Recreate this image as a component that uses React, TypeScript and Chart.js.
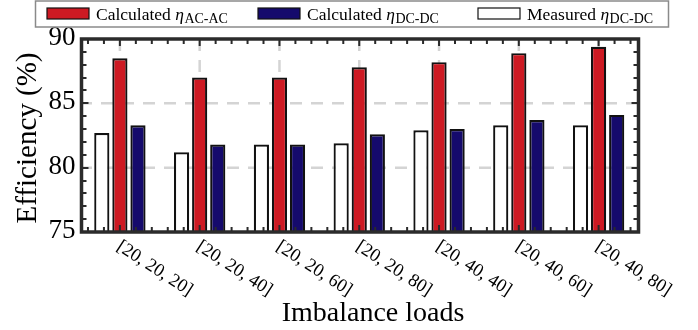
import { useEffect, useRef } from 'react';
import { Chart, registerables } from 'chart.js';

Chart.register(...registerables);

// Load cases (per-phase loads) on the x axis
const loadCases = ['[20, 20, 20]', '[20, 20, 40]', '[20, 20, 60]', '[20, 20, 80]', '[20, 40, 40]', '[20, 40, 60]', '[20, 40, 80]'];

// Efficiency values in %
const measuredDcDc = [82.7, 81.2, 81.8, 81.9, 82.9, 83.3, 83.3];
const calculatedAcAc = [88.5, 87.0, 87.0, 87.8, 88.2, 88.9, 89.4];
const calculatedDcDc = [83.3, 81.8, 81.8, 82.6, 83.0, 83.7, 84.1];

// Value axis
const yMin = 75;
const yMax = 90;
const yTickLabels = [75, 80, 85, 90];
const yGridValues = [80, 85];

// Legend entries (drawn in this order)
const legendNames = ['Calculated', 'Calculated', 'Measured'];
const legendSubs = ['AC-AC', 'DC-DC', 'DC-DC'];

const xTitle = 'Imbalance loads';
const yTitle = 'Efficiency (%)';

const RED = '#cd1a23';
const NAVY = '#150a6c';
const WHITE = '#ffffff';
const SERIF = '"Liberation Serif", "Times New Roman", "DejaVu Serif", serif';

const decorations = {
  id: 'decorations',
  beforeDatasetsDraw(chart: any) {
    const { ctx, chartArea: a, scales } = chart;
    const x = scales.x;
    const y = scales.y;
    ctx.save();
    ctx.strokeStyle = '#d4d4d4';
    ctx.lineWidth = 2.5;
    ctx.setLineDash([12, 9]);
    for (const v of yGridValues) {
      const py = y.getPixelForValue(v);
      ctx.beginPath();
      ctx.moveTo(a.left, py);
      ctx.lineTo(a.right, py);
      ctx.stroke();
    }
    for (let i = 0; i < loadCases.length; i++) {
      const px = x.getPixelForValue(i);
      ctx.beginPath();
      ctx.moveTo(px, a.top);
      ctx.lineTo(px, a.bottom);
      ctx.stroke();
    }
    ctx.restore();
  },
  afterDatasetsDraw(chart: any) {
    const { ctx, chartArea: a, scales } = chart;
    const x = scales.x;
    const y = scales.y;
    const frameLeft = a.left + 1.5;
    ctx.save();

    // inward tick marks on all four sides
    ctx.strokeStyle = '#2a2a2a';
    ctx.lineWidth = 2;
    ctx.setLineDash([]);
    for (let v = yMin + 1; v < yMax; v++) {
      const py = Math.round(y.getPixelForValue(v));
      const len = v % 5 === 0 ? 7 : 5;
      ctx.beginPath();
      ctx.moveTo(frameLeft, py);
      ctx.lineTo(frameLeft + len, py);
      ctx.moveTo(a.right, py);
      ctx.lineTo(a.right - len, py);
      ctx.stroke();
    }
    const cat = x.getPixelForValue(1) - x.getPixelForValue(0);
    const step = cat / 5;
    const x0 = x.getPixelForValue(0);
    for (let k = -2; k <= (loadCases.length - 1) * 5 + 2; k++) {
      const px = x0 + k * step;
      if (px <= frameLeft + 2 || px >= a.right - 2) continue;
      const len = k % 5 === 0 ? 7 : 5;
      ctx.beginPath();
      ctx.moveTo(px, a.top);
      ctx.lineTo(px, a.top + len);
      ctx.moveTo(px, a.bottom);
      ctx.lineTo(px, a.bottom - len);
      ctx.stroke();
    }

    // frame
    ctx.strokeStyle = '#2b2b2b';
    ctx.lineWidth = 3.5;
    ctx.strokeRect(frameLeft, a.top, a.right - frameLeft, a.bottom - a.top);

    // y tick labels
    ctx.fillStyle = '#000';
    ctx.font = `27px ${SERIF}`;
    ctx.textAlign = 'right';
    ctx.textBaseline = 'middle';
    for (const v of yTickLabels) {
      ctx.fillText(String(v), frameLeft - 6, y.getPixelForValue(v) - 1);
    }

    // rotated category labels
    ctx.font = `18.5px ${SERIF}`;
    ctx.textAlign = 'left';
    ctx.textBaseline = 'middle';
    const ang = (33 * Math.PI) / 180;
    loadCases.forEach((lbl, i) => {
      const px = x.getPixelForValue(i) - 1.5;
      ctx.save();
      ctx.translate(px, a.bottom + 13);
      ctx.rotate(ang);
      ctx.fillText(lbl, 0, 0);
      ctx.restore();
    });

    // axis titles
    ctx.font = `28px ${SERIF}`;
    ctx.textAlign = 'center';
    ctx.textBaseline = 'alphabetic';
    ctx.fillText(xTitle, 373, 320.5);
    ctx.save();
    ctx.translate(28, 138);
    ctx.rotate(-Math.PI / 2);
    ctx.font = `29px ${SERIF}`;
    ctx.textBaseline = 'middle';
    ctx.fillText(yTitle, 0, 0);
    ctx.restore();

    // legend
    ctx.strokeStyle = '#8a8a8a';
    ctx.lineWidth = 1.5;
    ctx.strokeRect(35.5, 1, 633, 26);
    const swatchX = [47, 258, 478];
    const fills = [RED, NAVY, WHITE];
    ctx.textAlign = 'left';
    ctx.textBaseline = 'alphabetic';
    legendNames.forEach((name, i) => {
      const sx = swatchX[i];
      ctx.fillStyle = fills[i];
      ctx.fillRect(sx, 8, 42, 11);
      ctx.strokeStyle = '#111';
      ctx.lineWidth = 1.2;
      ctx.strokeRect(sx, 8, 42, 11);
      ctx.fillStyle = '#000';
      let tx = sx + 49;
      ctx.font = `17.5px ${SERIF}`;
      ctx.fillText(name + ' ', tx, 19.5);
      tx += ctx.measureText(name + ' ').width;
      ctx.font = `italic 17.5px ${SERIF}`;
      ctx.fillText('\u03b7', tx, 19.5);
      tx += ctx.measureText('\u03b7').width + 0.5;
      ctx.font = `14px ${SERIF}`;
      ctx.fillText(legendSubs[i], tx, 22.5);
    });

    ctx.restore();
  },
};

export default function App() {
  const canvasRef = useRef<HTMLCanvasElement | null>(null);

  useEffect(() => {
    document.body.style.margin = '0';
    const canvas = canvasRef.current;
    if (!canvas) return;
    const barStyle = { borderColor: '#111111', borderWidth: 2.2, borderSkipped: 'start' as const };
    const chart = new Chart(canvas, {
      type: 'bar',
      data: {
        labels: loadCases,
        datasets: [
          { label: 'Measured DC-DC', data: measuredDcDc, backgroundColor: WHITE, ...barStyle },
          { label: 'Calculated AC-AC', data: calculatedAcAc, backgroundColor: RED, ...barStyle },
          { label: 'Calculated DC-DC', data: calculatedDcDc, backgroundColor: NAVY, ...barStyle },
        ],
      },
      options: {
        responsive: false,
        animation: false,
        devicePixelRatio: 1,
        layout: { padding: { left: 80, right: 59.5, top: 39, bottom: 98 } },
        datasets: { bar: { categoryPercentage: 0.68, barPercentage: 0.84 } },
        scales: {
          x: { display: false, offset: true },
          y: { display: false, min: yMin, max: yMax },
        },
        plugins: {
          legend: { display: false },
          tooltip: { enabled: false },
        },
      },
      plugins: [decorations],
    });
    return () => chart.destroy();
  }, []);

  return <canvas ref={canvasRef} width={698} height={330} style={{ display: 'block' }} />;
}
